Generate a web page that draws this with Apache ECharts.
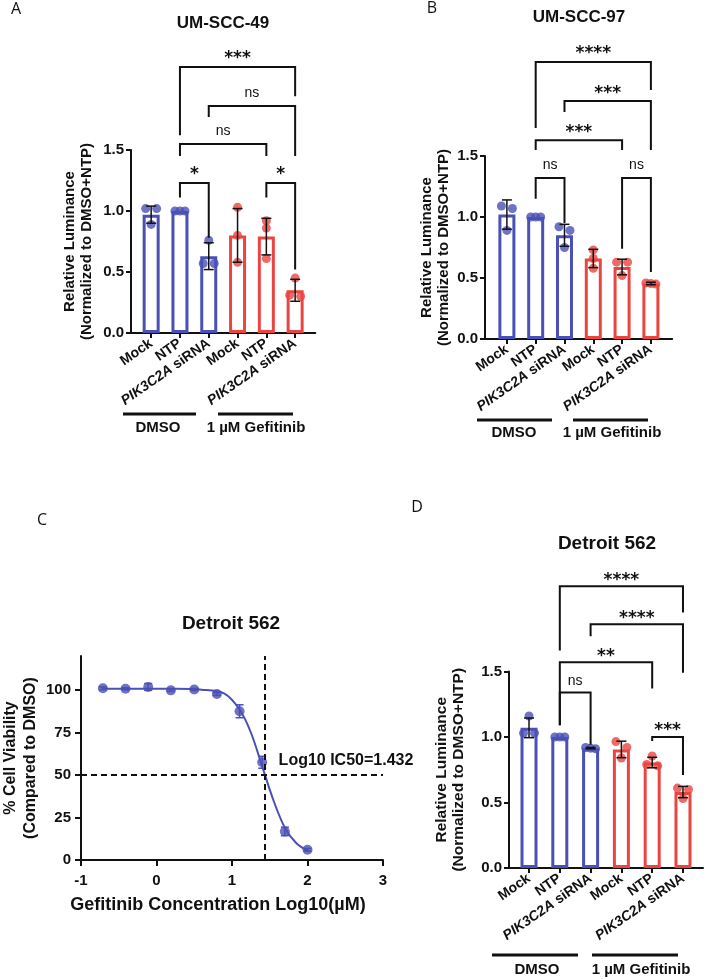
<!DOCTYPE html>
<html>
<head>
<meta charset="utf-8">
<script src="https://cdn.jsdelivr.net/npm/echarts@6/dist/echarts.min.js"></script>
<style>html,body{margin:0;background:#fff}#main{width:709px;height:979px}</style>
</head>
<body>
<div id="main"></div>
<script>
'use strict';
var categories = ['Mock', 'NTP', 'PIK3C2A siRNA', 'Mock', 'NTP', 'PIK3C2A siRNA'];
var treatments = ['DMSO', '1 \u00b5M Gefitinib'];

// A - UM-SCC-49
var aMeans = [0.97, 1.00, 0.63, 0.80, 0.79, 0.35];
var aSd = [0.07, 0.00, 0.11, 0.22, 0.15, 0.09];
var aDots = [[1.02, 1.02, 0.89], [1.00, 1.00, 1.00], [0.76, 0.57, 0.57], [1.03, 0.80, 0.58], [0.92, 0.86, 0.61], [0.45, 0.31, 0.30]];
var aBrackets = [[1, 5, 2.18, 1.62, 1.94, '***'], [2, 5, 1.86, 1.77, 1.45, 'ns'], [1, 4, 1.55, 1.45, 1.45, 'ns'], [1, 2, 1.23, 1.11, 0.78, '*'], [4, 5, 1.23, 1.11, 0.52, '*']];

// B - UM-SCC-97
var bMeans = [1.02, 1.00, 0.85, 0.66, 0.59, 0.455];
var bSd = [0.12, 0.00, 0.09, 0.075, 0.064, 0.01];
var bDots = [[1.09, 1.07, 0.89], [1.00, 1.00, 1.00], [0.92, 0.89, 0.75], [0.73, 0.66, 0.58], [0.63, 0.63, 0.52], [0.46, 0.45, 0.455]];
var bBrackets = [[1, 5, 2.27, 1.73, 2.04, '****'], [2, 5, 1.95, 1.86, 1.55, '***'], [1, 4, 1.63, 1.55, 1.55, '***'], [1, 2, 1.32, 1.15, 0.95, 'ns'], [4, 5, 1.32, 0.74, 0.55, 'ns']];

// C - Detroit 562 dose response
var logConc = [-0.71, -0.41, -0.11, 0.19, 0.50, 0.80, 1.10, 1.40, 1.70, 2.00];
var viability = [101.0, 100.7, 101.8, 99.8, 100.3, 97.6, 87.5, 57.5, 16.8, 6.0];
var viabilitySd = [0.8, 0.6, 2.0, 0.6, 0.6, 0.8, 3.8, 3.5, 2.5, 0.8];
var fitX = [-0.71, 0.2, 0.6, 0.9, 1.1, 1.25, 1.4, 1.55, 1.7, 1.85, 2.0];
var fitY = [100.8, 100.7, 100.2, 97.9, 88.5, 75, 55, 35, 19, 10, 5.5];
var ic50Log = 1.432;

// D - Detroit 562 luminance
var dMeans = [1.07, 1.00, 0.915, 0.905, 0.805, 0.58];
var dSd = [0.075, 0.00, 0.005, 0.063, 0.04, 0.043];
var dDots = [[1.16, 1.03, 1.03], [1.00, 1.00, 1.00], [0.92, 0.915, 0.91], [0.965, 0.92, 0.84], [0.855, 0.79, 0.78], [0.61, 0.60, 0.53]];
var dBrackets = [[1, 5, 2.15, 1.66, 1.95, '****'], [2, 5, 1.86, 1.77, 1.49, '****'], [1, 4, 1.57, 1.09, 1.37, '**'], [1, 2, 1.34, 1.09, 0.94, 'ns'], [4, 5, 1.00, 0.97, 0.71, '***']];

var FONT = '"Liberation Sans", Arial, sans-serif';
var INK = '#111';
var blue = '#4a50b5', red = '#eb4541';
function colorOf(i) { return i < 3 ? blue : red; }

// spread overlapping dots sideways like a prism scatter
function dotOffsets(vals) {
  var idx = vals.map(function (v, i) { return i; }).sort(function (a, b) { return vals[b] - vals[a]; });
  var off = vals.map(function () { return 0; });
  var groups = [], cur = [idx[0]];
  for (var k = 1; k < idx.length; k++) {
    if (Math.abs(vals[cur[cur.length - 1]] - vals[idx[k]]) < 0.049) cur.push(idx[k]);
    else { groups.push(cur); cur = [idx[k]]; }
  }
  groups.push(cur);
  groups.forEach(function (g) {
    var step = g.length > 2 ? 5 : 11;
    g.forEach(function (d, j) { off[d] = (j - (g.length - 1) / 2) * step; });
  });
  return off;
}

function errorBars(cap, color) {
  return function (params, api) {
    var x = api.value(0), m = api.value(1), s = api.value(2);
    if (!s) return null;
    var t = api.coord([x, m + s]), b = api.coord([x, m - s]);
    var st = { stroke: color, lineWidth: 1.5 };
    return { type: 'group', children: [
      { type: 'line', shape: { x1: t[0], y1: t[1], x2: b[0], y2: b[1] }, style: st },
      { type: 'line', shape: { x1: t[0] - cap, y1: t[1], x2: t[0] + cap, y2: t[1] }, style: st },
      { type: 'line', shape: { x1: b[0] - cap, y1: b[1], x2: b[0] + cap, y2: b[1] }, style: st }
    ] };
  };
}

var axisLine = { show: true, onZero: false, lineStyle: { color: INK, width: 2 } };
var tickIdx = categories.map(function (c, i) { return i; });

function barPanel(k, p) {
  var grid = { left: p.left, top: p.top, width: p.width, height: p.height };
  var xAxis = {
    gridIndex: k, type: 'value', min: p.xMin, max: p.xMax, splitLine: { show: false },
    axisLine: axisLine,
    axisTick: { show: true, length: 5, lineStyle: { color: INK, width: 2 }, customValues: tickIdx },
    axisLabel: {
      customValues: tickIdx, rotate: 35, margin: 9, color: INK,
      formatter: function (v) {
        var c = categories[Math.round(v)];
        if (c.indexOf('PIK3C2A') === 0) return '{it|PIK3C2A}{rg|' + c.slice(7) + '}';
        return '{rg|' + c + '}';
      },
      rich: {
        it: { fontStyle: 'italic', fontWeight: 'bold', fontSize: 14, fontFamily: FONT, color: INK },
        rg: { fontWeight: 'bold', fontSize: 14, fontFamily: FONT, color: INK }
      }
    }
  };
  var yAxis = {
    gridIndex: k, type: 'value', min: 0, max: 1.5, interval: 0.5, splitLine: { show: false },
    axisLine: axisLine,
    axisTick: { show: true, length: 5, lineStyle: { color: INK, width: 2 } },
    axisLabel: { margin: 7, color: INK, fontWeight: 'bold', fontSize: 15, fontFamily: FONT,
      formatter: function (v) { return v.toFixed(1); } },
    name: 'Relative Luminance\n(Normalized to DMSO+NTP)', nameLocation: 'middle', nameRotate: 90, nameGap: p.nameGap,
    nameTextStyle: { color: INK, fontWeight: 'bold', fontSize: p.nameFs, lineHeight: 17, fontFamily: FONT, align: 'center' }
  };
  var dots = [];
  p.dots.forEach(function (vals, i) {
    var off = dotOffsets(vals);
    vals.forEach(function (v, j) {
      dots.push({ value: [i, v], symbolOffset: [off[j], 0], itemStyle: { color: colorOf(i) } });
    });
  });
  var labels = p.brackets.map(function (b) { return b[5]; });
  var series = [
    { type: 'bar', xAxisIndex: k, yAxisIndex: k, barWidth: p.barW, silent: true, z: 2,
      itemStyle: { color: '#fff', borderWidth: 3 },
      data: p.means.map(function (m, i) { return { value: [i, m], itemStyle: { borderColor: colorOf(i) } }; }) },
    { type: 'scatter', xAxisIndex: k, yAxisIndex: k, symbolSize: 9, silent: true, z: 3, data: dots },
    { type: 'custom', xAxisIndex: k, yAxisIndex: k, silent: true, z: 4, clip: false,
      renderItem: errorBars(5, INK), encode: { x: 0, y: 1 },
      data: p.means.map(function (m, i) { return [i, m, p.sd[i]]; }) },
    { type: 'custom', xAxisIndex: k, yAxisIndex: k, silent: true, z: 5, clip: false,
      encode: { x: [0, 1], y: [2, 3, 4] },
      data: p.brackets.map(function (b) { return b.slice(0, 5); }),
      renderItem: function (params, api) {
        var x1 = api.value(0), x2 = api.value(1), yt = api.value(2);
        var pL = api.coord([x1, api.value(3)]), pTL = api.coord([x1, yt]);
        var pTR = api.coord([x2, yt]), pR = api.coord([x2, api.value(4)]);
        var lab = labels[params.dataIndex];
        var star = lab !== 'ns';
        return { type: 'group', children: [
          { type: 'polyline', shape: { points: [pL, pTL, pTR, pR] }, style: { stroke: INK, lineWidth: 2, fill: null } },
          { type: 'text', x: (pTL[0] + pTR[0]) / 2, y: pTL[1] - p.labGap + (star ? 4 : -1),
            style: { text: lab, align: 'center', verticalAlign: 'middle', fill: INK,
              font: star ? 'bold 17px "DejaVu Sans"' : '14px ' + FONT } }
        ] };
      } }
  ];
  return { grid: grid, xAxis: xAxis, yAxis: yAxis, series: series };
}

var pA = barPanel(0, { left: 131, top: 150, width: 184.3, height: 183, xMin: -0.7, xMax: 5.7, nameFs: 15, nameGap: 36, barW: 17, labGap: 12,
  means: aMeans, sd: aSd, dots: aDots, brackets: aBrackets });
var pB = barPanel(1, { left: 485, top: 156, width: 187.2, height: 183, xMin: -0.76, xMax: 5.74, nameFs: 15, nameGap: 33, barW: 17, labGap: 12,
  means: bMeans, sd: bSd, dots: bDots, brackets: bBrackets });
var pD = barPanel(3, { left: 509, top: 671.5, width: 194, height: 196.5, xMin: -0.65, xMax: 5.65, nameFs: 15.5, nameGap: 42, barW: 17, labGap: 10,
  means: dMeans, sd: dSd, dots: dDots, brackets: dBrackets });

var cGrid = { left: 79, top: 656, width: 304, height: 204 };
var cX = {
  gridIndex: 2, type: 'value', min: -1, max: 3, interval: 1, splitLine: { show: false },
  axisLine: axisLine,
  axisTick: { show: true, length: 6, lineStyle: { color: INK, width: 2 } },
  axisLabel: { margin: 13, color: INK, fontWeight: 'bold', fontSize: 15, fontFamily: FONT },
  name: 'Gefitinib Concentration Log10(\u00b5M)', nameLocation: 'middle', nameGap: 36,
  nameTextStyle: { color: INK, fontWeight: 'bold', fontSize: 18, fontFamily: FONT, padding: [0, 28, 0, 0] }
};
var cY = {
  gridIndex: 2, type: 'value', min: 0, max: 120, splitLine: { show: false },
  axisLine: axisLine,
  axisTick: { show: true, length: 6, lineStyle: { color: INK, width: 2 }, customValues: [0, 25, 50, 75, 100] },
  axisLabel: { margin: 10, color: INK, fontWeight: 'bold', fontSize: 15, fontFamily: FONT, customValues: [0, 25, 50, 75, 100] },
  name: '% Cell Viability\n(Compared to DMSO)', nameLocation: 'middle', nameRotate: 90, nameGap: 40,
  nameTextStyle: { color: INK, fontWeight: 'bold', fontSize: 16, lineHeight: 20, fontFamily: FONT, align: 'center' }
};
var cSeries = [
  { type: 'line', xAxisIndex: 2, yAxisIndex: 2, smooth: 0.35, showSymbol: false, silent: true, z: 2,
    lineStyle: { color: blue, width: 2 },
    data: fitX.map(function (x, i) { return [x, fitY[i]]; }),
    markLine: { silent: true, symbol: 'none', animation: false,
      lineStyle: { color: INK, width: 2, type: [6, 4] }, label: { show: false },
      data: [{ xAxis: ic50Log }, { yAxis: 50 }] },
    markPoint: { silent: true, symbol: 'circle', symbolSize: 0,
      label: { show: true, position: 'right', distance: 0, offset: [14, -14], color: INK, fontWeight: 'bold', fontSize: 16, fontFamily: FONT,
        formatter: 'Log10 IC50=' + ic50Log },
      data: [{ coord: [ic50Log, 50] }] } },
  { type: 'scatter', xAxisIndex: 2, yAxisIndex: 2, symbolSize: 10, silent: true, z: 3, itemStyle: { color: blue },
    data: logConc.map(function (x, i) { return [x, viability[i]]; }) },
  { type: 'custom', xAxisIndex: 2, yAxisIndex: 2, silent: true, z: 4, clip: false, renderItem: errorBars(4, blue), encode: { x: 0, y: 1 },
    data: logConc.map(function (x, i) { return [x, viability[i], viabilitySd[i]]; }) }
];

// titles, panel letters and treatment group underlines
var graphics = [];
function txt(s, x, y, font, align) {
  graphics.push({ type: 'text', x: x, y: y, style: { text: s, font: font, fill: INK, align: align || 'center', verticalAlign: 'middle' } });
}
function hline(x1, x2, y) {
  graphics.push({ type: 'line', shape: { x1: x1, y1: y, x2: x2, y2: y }, style: { stroke: INK, lineWidth: 3 } });
}
var letterFont = '16px "Open Sans"';
txt('A', 16, 9, letterFont); txt('B', 432, 8, letterFont); txt('C', 42, 520, letterFont); txt('D', 417, 507, letterFont);
txt('UM-SCC-49', 223, 23, 'bold 17px ' + FONT);
txt('UM-SCC-97', 579, 17, 'bold 17px ' + FONT);
txt('Detroit 562', 231, 624, 'bold 19px ' + FONT);
txt('Detroit 562', 607, 544, 'bold 19px ' + FONT);
[
  { y: 414, ty: 428, spans: [[123, 196], [218, 293]], cx: [158, 256] },
  { y: 420, ty: 433, spans: [[477, 552], [573, 648]], cx: [514, 612] },
  { y: 955, ty: 970, spans: [[492, 578], [592, 678]], cx: [537, 641] }
].forEach(function (g) {
  g.spans.forEach(function (s, i) {
    hline(s[0], s[1], g.y);
    txt(treatments[i], g.cx[i], g.ty, 'bold 15px ' + FONT);
  });
});

var chart = echarts.init(document.getElementById('main'));
chart.setOption({
  animation: false,
  backgroundColor: '#fff',
  grid: [pA.grid, pB.grid, cGrid, pD.grid],
  xAxis: [pA.xAxis, pB.xAxis, cX, pD.xAxis],
  yAxis: [pA.yAxis, pB.yAxis, cY, pD.yAxis],
  series: pA.series.concat(pB.series, cSeries, pD.series),
  graphic: graphics
});
</script>
</body>
</html>
